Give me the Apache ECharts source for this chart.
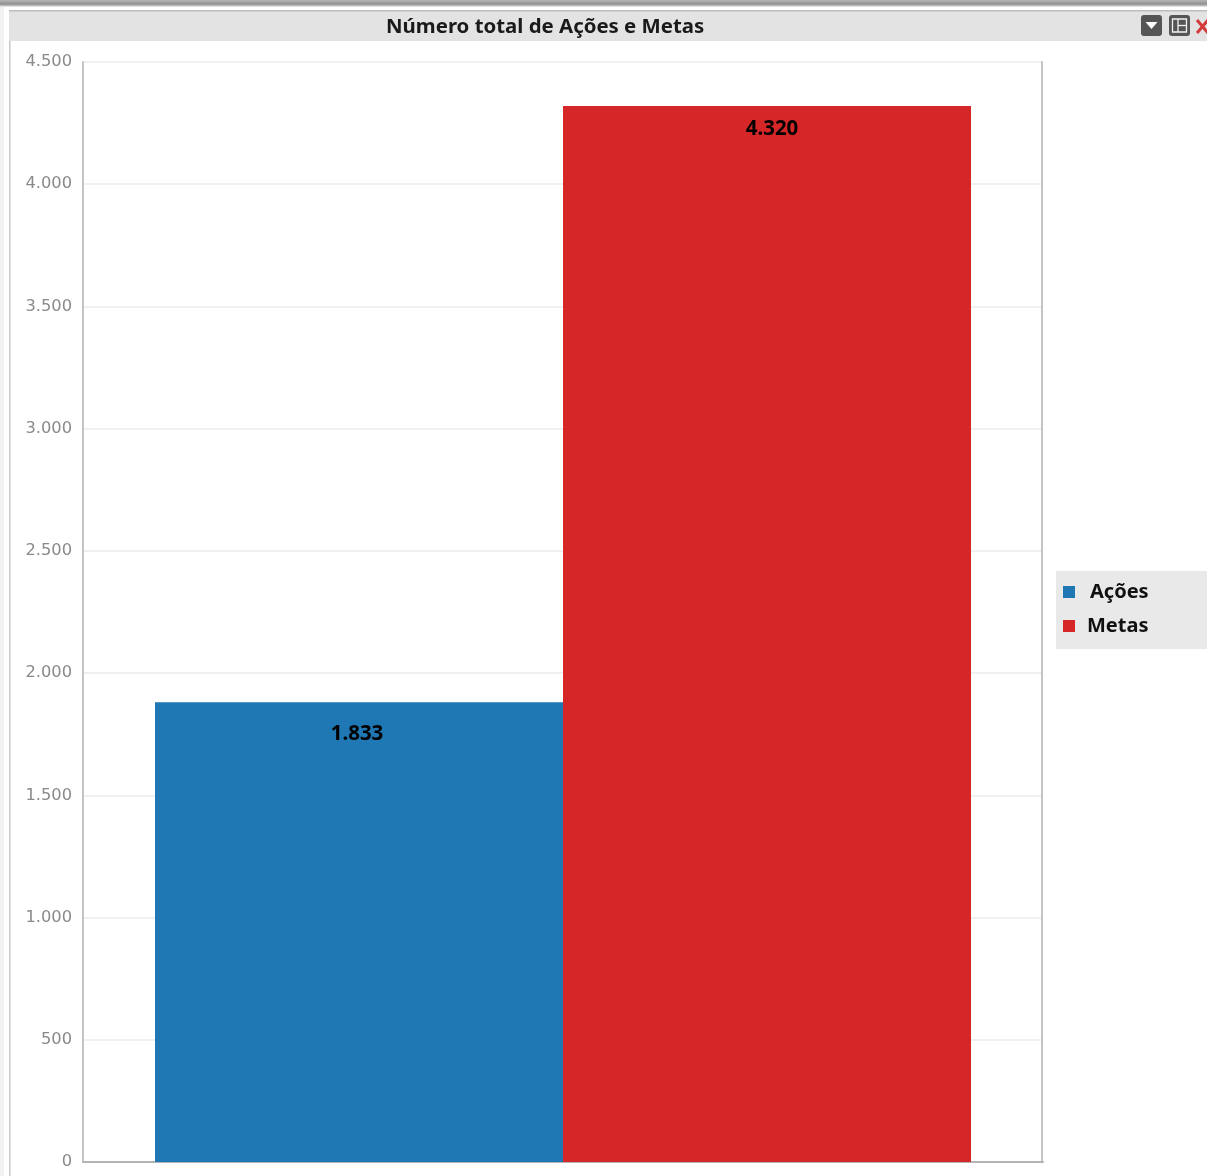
<!DOCTYPE html>
<html>
<head>
<meta charset="utf-8">
<style>html,body{margin:0;padding:0;background:#fff}#c{width:1207px;height:1176px}</style>
<script src="https://cdn.jsdelivr.net/npm/echarts@6/dist/echarts.min.js"></script>
</head>
<body>
<div id="c"></div>
<script>
const titleText = 'Número total de Ações e Metas';
const categories = ['Total'];
const seriesNames = ['Ações', 'Metas'];
const acoesValues = [1881];
const metasValues = [4320];
const printedLabels = ['1.833', '4.320'];
const seriesColors = ['#1f78b4', '#d62728'];
const axisMax = 4500;
const axisStep = 500;

const fmt = v => String(v).replace(/\B(?=(\d{3})+$)/g, '.');
const fontUI = '"Noto Sans", "Open Sans", sans-serif';

const chart = echarts.init(document.getElementById('c'), null, {renderer: 'canvas'});
const makeSeries = (i, data, labelOffset) => ({
  name: seriesNames[i],
  type: 'bar',
  data: data,
  barGap: 0,
  barCategoryGap: '15%',
  itemStyle: {color: seriesColors[i]},
  label: {
    show: true,
    position: 'insideTop',
    distance: 13,
    offset: labelOffset,
    formatter: () => printedLabels[i],
    color: '#000',
    fontFamily: fontUI,
    fontWeight: 'bold',
    fontSize: 20.5
  }
});
const valueAxisBase = {
  type: 'value',
  min: 0,
  max: axisMax,
  interval: axisStep,
  axisTick: {show: false}
};
chart.setOption({
  animation: false,
  backgroundColor: '#fff',
  title: {
    text: titleText,
    left: 386,
    top: 17,
    padding: 0,
    textStyle: {color: '#1a1a1a', fontFamily: fontUI, fontWeight: 'bold', fontSize: 20.4}
  },
  legend: {
    orient: 'vertical',
    left: 1056,
    top: 571,
    padding: [11, 59, 13, 7],
    backgroundColor: '#e9e9e9',
    itemWidth: 12,
    itemHeight: 12,
    itemGap: 14,
    icon: 'rect',
    data: [
      {name: seriesNames[0], textStyle: {padding: [0, 0, 0, 10]}},
      {name: seriesNames[1], textStyle: {padding: [0, 0, 0, 7]}}
    ],
    selectedMode: false,
    textStyle: {color: '#111', fontFamily: fontUI, fontWeight: 'bold', fontSize: 20}
  },
  grid: {left: 83, right: 164, top: 62, bottom: 14, show: false},
  xAxis: {
    type: 'category',
    data: categories,
    axisLine: {lineStyle: {color: '#b4b4b4', width: 2}},
    axisTick: {show: false},
    axisLabel: {show: false}
  },
  yAxis: [
    Object.assign({}, valueAxisBase, {
      axisLine: {show: true, lineStyle: {color: '#c4c4c4', width: 2}},
      axisLabel: {color: '#8a8a8a', fontFamily: '"DejaVu Sans"', fontSize: 16.3, margin: 11, padding: [4, 0, 0, 0], formatter: fmt},
      splitLine: {show: true, lineStyle: {color: '#ebebeb', width: 1.5}}
    }),
    Object.assign({}, valueAxisBase, {
      position: 'right',
      offset: -1,
      axisLine: {show: true, lineStyle: {color: '#c4c4c4', width: 2}},
      axisLabel: {show: false},
      splitLine: {show: false}
    })
  ],
  series: [makeSeries(0, acoesValues, [-2, 8]), makeSeries(1, metasValues, [5, 0])],
  graphic: [
    {type: 'rect', z: -10, silent: true, shape: {x: 0, y: 0, width: 1207, height: 7},
      style: {fill: new echarts.graphic.LinearGradient(0, 0, 0, 1, [
        {offset: 0, color: '#b5b5b5'}, {offset: 0.6, color: '#8f8f8f'}, {offset: 1, color: '#f0f0f0'}
      ])}},
    {type: 'rect', z: -10, silent: true, shape: {x: 0, y: 7, width: 4, height: 1169}, style: {fill: '#f1f1f1'}},
    {type: 'rect', z: -9, silent: true, shape: {x: 9, y: 10, width: 1.5, height: 1166}, style: {fill: '#c8c8c8'}},
    {type: 'rect', z: -9, silent: true, shape: {x: 9, y: 10, width: 1198, height: 31}, style: {fill: '#e3e3e3'}},
    {type: 'rect', z: -8, silent: true, shape: {x: 9, y: 10, width: 1198, height: 1.5}, style: {fill: '#bdbdbd'}},
    {type: 'rect', silent: true, shape: {x: 1141, y: 15, width: 21, height: 21, r: 3}, style: {fill: '#555'}},
    {type: 'polygon', silent: true, shape: {points: [[1145.5, 22], [1157.5, 22], [1151.5, 29]]}, style: {fill: '#fff'}},
    {type: 'rect', silent: true, shape: {x: 1169, y: 15, width: 21, height: 21, r: 3}, style: {fill: '#555'}},
    {type: 'rect', silent: true, shape: {x: 1172.5, y: 19, width: 14, height: 13}, style: {fill: '#555', stroke: '#f2f2f2', lineWidth: 1.3}},
    {type: 'line', silent: true, shape: {x1: 1178, y1: 19, x2: 1178, y2: 32}, style: {stroke: '#f2f2f2', lineWidth: 1.3}},
    {type: 'line', silent: true, shape: {x1: 1178, y1: 25.5, x2: 1186.5, y2: 25.5}, style: {stroke: '#f2f2f2', lineWidth: 1.3}},
    {type: 'line', silent: true, shape: {x1: 1197, y1: 20, x2: 1208, y2: 33}, style: {stroke: '#d43a3a', lineWidth: 3}},
    {type: 'line', silent: true, shape: {x1: 1197, y1: 33, x2: 1208, y2: 20}, style: {stroke: '#d43a3a', lineWidth: 3}}
  ]
});
</script>
</body>
</html>
